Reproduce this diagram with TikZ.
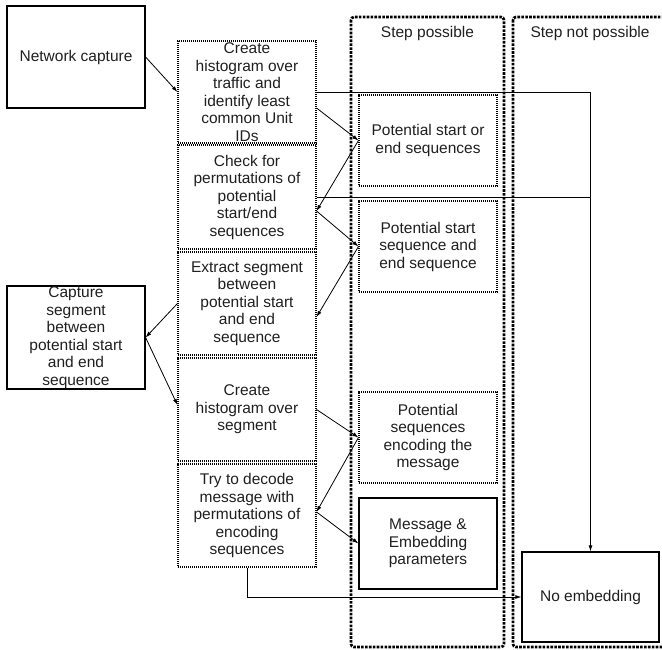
\documentclass[tikz,border=0pt]{standalone}
\usepackage{fontspec}
\setmainfont{Liberation Sans}
\usetikzlibrary{arrows.meta}
\begin{document}
\begin{tikzpicture}[x=1pt,y=-1pt,
	every node/.style={font=\fontsize{15.5}{17.5}\selectfont,text=black!88,align=center,inner sep=0pt},
	solidbox/.style={draw,line width=1.2pt,minimum width=138pt,minimum height=#1},
	dotbox/.style={draw,line width=1.1pt,dash pattern=on 1.1pt off 0.9pt,minimum width=138pt,minimum height=#1},
	lane/.style={line width=2.6pt,dash pattern=on 2.6pt off 1.3pt,rounded corners=3pt},
	link/.style={line width=0.8pt,-{Latex[length=6pt,width=4pt]}},
	plain/.style={line width=0.8pt}]
	\useasboundingbox (0,0) rectangle (662,650);
	% lanes
	\draw[lane] (351,17) rectangle (504,647);
	\draw[lane] (513,17) rectangle (676,647);
	\node (possible) at (427.5,33) {Step possible};
	\node (notpossible) at (590,33) {Step not possible};
	% inputs
	\node[solidbox=102pt] (netcap) at (76,57) {Network capture};
	\node[solidbox=103pt] (segcap) at (76,337.5) {Capture\\segment\\between\\potential start\\and end\\sequence};
	% steps
	\node[dotbox=102pt] (hist) at (247,92) {Create\\histogram over\\traffic and\\identify least\\common Unit\\IDs};
	\node[dotbox=104pt] (perm) at (247,197) {Check for\\permutations of\\potential\\start/end\\sequences};
	\node[dotbox=103pt] (extract) at (247,303.5) {Extract segment\\between\\potential start\\and end\\sequence};
	\node[dotbox=103pt] (histseg) at (247,409.5) {Create\\histogram over\\segment};
	\node[dotbox=103pt] (decode) at (247,515.5) {Try to decode\\message with\\permutations of\\encoding\\sequences};
	% results
	\node[dotbox=91pt] (startend) at (428,140.5) {Potential start or\\end sequences};
	\node[dotbox=91pt] (startseq) at (428,246.5) {Potential start\\sequence and\\end sequence};
	\node[dotbox=91pt] (encseq) at (428,437.5) {Potential\\sequences\\encoding the\\message};
	\node[solidbox=91pt] (msg) at (428,543.5) {Message \&\\Embedding\\parameters};
	\node[solidbox=90pt,minimum width=137pt] (noemb) at (590.5,597) {No embedding};
	% helper points
	\coordinate (histout) at ([yshift=-16pt]hist.east);
	\coordinate (permin) at ([yshift=-14pt]perm.east);
	\coordinate (extractin) at ([yshift=-13.5pt]extract.east);
	\coordinate (histsegin) at ([yshift=4.5pt]histseg.west);
	\coordinate (decodein) at ([yshift=3.5pt]decode.east);
	% flow
	\draw[link] (netcap.east) -- (hist.west);
	\draw[link] (histout) -- (startend.west);
	\draw[link] (startend.west) -- (permin);
	\draw[link] (permin) -- (startseq.west);
	\draw[link] (startseq.west) -- (extractin);
	\draw[link] (extract.west) -- (segcap.east);
	\draw[link] (segcap.east) -- (histsegin);
	\draw[link] (histseg.east) -- (encseq.west);
	\draw[link] (encseq.west) -- (decodein);
	\draw[link] (decodein) -- (msg.west);
	% failures
	\draw[link] (hist.east) -| (noemb.north);
	\draw[plain] (perm.east) -- (noemb.north |- perm.east);
	\draw[link] (decode.south) |- (noemb.west);
\end{tikzpicture}
\end{document}
